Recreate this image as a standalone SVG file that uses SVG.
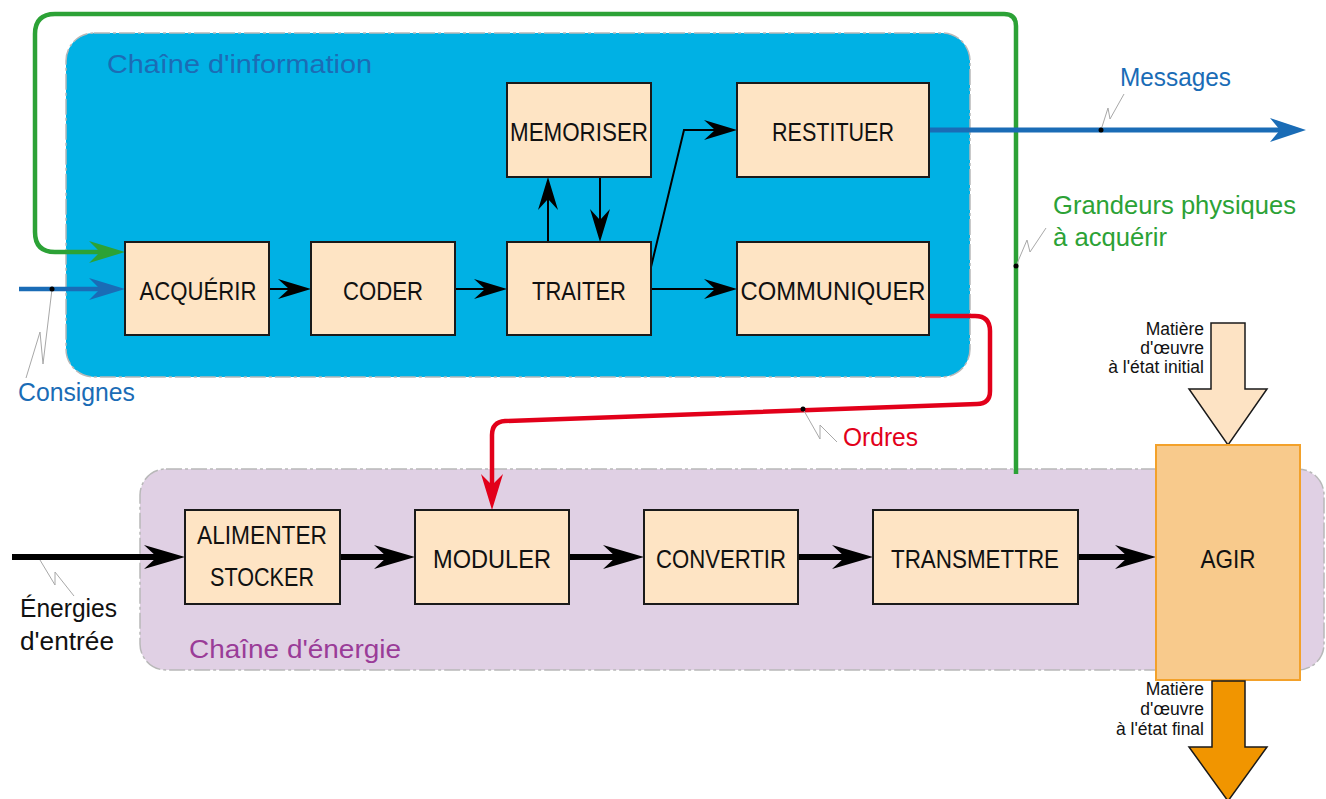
<svg xmlns="http://www.w3.org/2000/svg" width="1326" height="799" viewBox="0 0 1326 799">
<style>
.box{fill:#fee4c4;stroke:#1a1a1a;stroke-width:2}
.lbl{font-family:"Liberation Sans",Arial,sans-serif;font-size:26px;fill:#111;text-anchor:middle}
.txt{font-family:"Liberation Sans",Arial,sans-serif;font-size:26px}
.small{font-family:"Liberation Sans",Arial,sans-serif;font-size:17.5px;fill:#111;text-anchor:end}
.thin{fill:none;stroke:#000;stroke-width:2}
.thick{fill:none;stroke:#000;stroke-width:6}
.lead{fill:none;stroke:#a8a8a8;stroke-width:1}
</style>
<defs>
<marker id="ahThin" markerUnits="userSpaceOnUse" viewBox="-34 -11 34 22" markerWidth="34" markerHeight="22" refX="-21" refY="0" orient="auto"><path d="M0,0 L-33,-10 L-22,0 L-33,10 Z" fill="#000"/></marker>
<marker id="ahThick" markerUnits="userSpaceOnUse" viewBox="-42 -13 42 26" markerWidth="42" markerHeight="26" refX="-26" refY="0" orient="auto"><path d="M0,0 L-41,-12 L-28,0 L-41,12 Z" fill="#000"/></marker>
<marker id="ahBlue" markerUnits="userSpaceOnUse" viewBox="-38 -12 38 24" markerWidth="38" markerHeight="24" refX="-23" refY="0" orient="auto"><path d="M0,0 L-36,-11 L-25,0 L-36,11 Z" fill="#1a6cb6"/></marker>
<marker id="ahGreen" markerUnits="userSpaceOnUse" viewBox="-38 -12 38 24" markerWidth="38" markerHeight="24" refX="-23" refY="0" orient="auto"><path d="M0,0 L-36,-11 L-25,0 L-36,11 Z" fill="#2ca236"/></marker>
<marker id="ahRed" markerUnits="userSpaceOnUse" viewBox="-38 -12 38 24" markerWidth="38" markerHeight="24" refX="-23" refY="0" orient="auto"><path d="M0,0 L-36,-11 L-25,0 L-36,11 Z" fill="#e2001a"/></marker>
<marker id="ahMsg" markerUnits="userSpaceOnUse" viewBox="-38 -13 38 26" markerWidth="38" markerHeight="26" refX="-24" refY="0" orient="auto"><path d="M0,0 L-36,-12 L-26,0 L-36,12 Z" fill="#1a6cb6"/></marker>
</defs>

<g id="chaine-information">
<rect x="66" y="33" width="904" height="344" rx="28" fill="#00b1e4" stroke="#b8b8b8" stroke-width="1.5" stroke-dasharray="16 3 3 3"/>
<text class="txt" x="107" y="73" fill="#1c6cb5" font-size="29" textLength="265" lengthAdjust="spacingAndGlyphs">Chaîne d'information</text>
</g>
<g id="chaine-energie">
<rect x="140" y="469" width="1184" height="201" rx="26" fill="#e0d0e4" stroke="#b8b8b8" stroke-width="1.5" stroke-dasharray="16 3 3 3"/>
<text class="txt" x="189" y="658" fill="#9a3c98" font-size="28" textLength="212" lengthAdjust="spacingAndGlyphs">Chaîne d'énergie</text>
</g>

<g id="connectors">
<path d="M1016,474 V26 Q1016,14 1004,14 H55 Q35,14 35,34 V232 Q35,252 55,252 H102" fill="none" stroke="#2ca236" stroke-width="4.5" marker-end="url(#ahGreen)"/>
<path d="M929,130 H1282" fill="none" stroke="#1a6cb6" stroke-width="5" marker-end="url(#ahMsg)"/>
<path d="M19,289 H102" fill="none" stroke="#1a6cb6" stroke-width="4.5" marker-end="url(#ahBlue)"/>
<path d="M929,316 H975 Q990,316 990,331 V391 Q990,404 977,404 L505,421 Q492,422 492,435 V487" fill="none" stroke="#e2001a" stroke-width="4.5" marker-end="url(#ahRed)"/>
<path class="thin" d="M269,289 H290" marker-end="url(#ahThin)"/>
<path class="thin" d="M455,289 H486" marker-end="url(#ahThin)"/>
<path class="thin" d="M651,289 H716" marker-end="url(#ahThin)"/>
<path class="thin" d="M548,242 V198" marker-end="url(#ahThin)"/>
<path class="thin" d="M600,177 V221" marker-end="url(#ahThin)"/>
<path class="thin" d="M651,267 L684,130 H716" marker-end="url(#ahThin)"/>
<path class="thick" d="M12,557 H159" marker-end="url(#ahThick)"/>
<path class="thick" d="M340,557 H389" marker-end="url(#ahThick)"/>
<path class="thick" d="M569,557 H618" marker-end="url(#ahThick)"/>
<path class="thick" d="M798,557 H847" marker-end="url(#ahThick)"/>
<path class="thick" d="M1078,557 H1130" marker-end="url(#ahThick)"/>
<g id="leaders">
<path class="lead" d="M52,289 L43,364 L40,332 L26,378"/>
<path class="lead" d="M1101,130 L1108,108 L1110,119 L1124,94"/>
<path class="lead" d="M1016,266 L1027,240 L1030,252 L1046,228"/>
<path class="lead" d="M803,409 L820,439 L820,425 L837,442"/>
<path class="lead" d="M40,560 L55,585 L55,572 L74,596"/>
</g>
<circle cx="52" cy="289" r="2.5" fill="#000"/>
<circle cx="1101" cy="130" r="2.5" fill="#000"/>
<circle cx="1016" cy="266" r="2.5" fill="#000"/>
<circle cx="803" cy="409" r="2.5" fill="#000"/>
</g>

<g id="acquerir"><rect class="box" x="125" y="242" width="144" height="93"/><text class="lbl" x="198" y="300" textLength="117" lengthAdjust="spacingAndGlyphs">ACQUÉRIR</text></g>
<g id="coder"><rect class="box" x="311" y="242" width="144" height="93"/><text class="lbl" x="383" y="300" textLength="80" lengthAdjust="spacingAndGlyphs">CODER</text></g>
<g id="traiter"><rect class="box" x="507" y="242" width="144" height="93"/><text class="lbl" x="579" y="300" textLength="94" lengthAdjust="spacingAndGlyphs">TRAITER</text></g>
<g id="memoriser"><rect class="box" x="507" y="83" width="144" height="94"/><text class="lbl" x="579" y="141" textLength="138" lengthAdjust="spacingAndGlyphs">MEMORISER</text></g>
<g id="restituer"><rect class="box" x="737" y="83" width="192" height="94"/><text class="lbl" x="833" y="141" textLength="122" lengthAdjust="spacingAndGlyphs">RESTITUER</text></g>
<g id="communiquer"><rect class="box" x="737" y="242" width="192" height="93"/><text class="lbl" x="833" y="300" textLength="185" lengthAdjust="spacingAndGlyphs">COMMUNIQUER</text></g>

<g id="alimenter-stocker"><rect class="box" x="185" y="510" width="155" height="94"/><text class="lbl" x="262" y="544" textLength="130" lengthAdjust="spacingAndGlyphs">ALIMENTER</text><text class="lbl" x="262" y="586" textLength="104" lengthAdjust="spacingAndGlyphs">STOCKER</text></g>
<g id="moduler"><rect class="box" x="415" y="510" width="154" height="94"/><text class="lbl" x="492" y="568" textLength="118" lengthAdjust="spacingAndGlyphs">MODULER</text></g>
<g id="convertir"><rect class="box" x="644" y="510" width="154" height="94"/><text class="lbl" x="721" y="568" textLength="130" lengthAdjust="spacingAndGlyphs">CONVERTIR</text></g>
<g id="transmettre"><rect class="box" x="873" y="510" width="205" height="94"/><text class="lbl" x="975" y="568" textLength="168" lengthAdjust="spacingAndGlyphs">TRANSMETTRE</text></g>

<g id="matiere-initiale">
<path d="M1211,323 H1245 V389 H1267 L1228,445 L1189,389 H1211 Z" fill="#fde3c4" stroke="#1a1a1a" stroke-width="1.5"/>
<text class="small" x="1204" y="335">Matière</text>
<text class="small" x="1204" y="354">d'œuvre</text>
<text class="small" x="1204" y="373">à l'état initial</text>
</g>
<g id="agir"><rect x="1156" y="445" width="144" height="235" fill="#f8ca8c" stroke="#f3a12a" stroke-width="2"/><text class="lbl" x="1228" y="568" textLength="55" lengthAdjust="spacingAndGlyphs">AGIR</text></g>
<g id="matiere-finale">
<path d="M1212,681 H1245 V747 H1267 L1228,801 L1189,747 H1212 Z" fill="#f19500" stroke="#1a1a1a" stroke-width="1.5"/>
<text class="small" x="1204" y="695">Matière</text>
<text class="small" x="1204" y="715">d'œuvre</text>
<text class="small" x="1204" y="735">à l'état final</text>
</g>

<g id="labels">
<text class="txt" x="18" y="401" fill="#1a6cb6" textLength="117" lengthAdjust="spacingAndGlyphs">Consignes</text>
<text class="txt" x="1120" y="86" fill="#1a6cb6" textLength="111" lengthAdjust="spacingAndGlyphs">Messages</text>
<text class="txt" x="1053" y="214" fill="#2ca236" textLength="243" lengthAdjust="spacingAndGlyphs">Grandeurs physiques</text>
<text class="txt" x="1053" y="246" fill="#2ca236" textLength="114" lengthAdjust="spacingAndGlyphs">à acquérir</text>
<text class="txt" x="843" y="446" fill="#e2001a" textLength="75" lengthAdjust="spacingAndGlyphs">Ordres</text>
<text class="txt" x="20" y="617" fill="#111" textLength="97" lengthAdjust="spacingAndGlyphs">Énergies</text>
<text class="txt" x="20" y="650" fill="#111" textLength="94" lengthAdjust="spacingAndGlyphs">d'entrée</text>
</g>
</svg>
